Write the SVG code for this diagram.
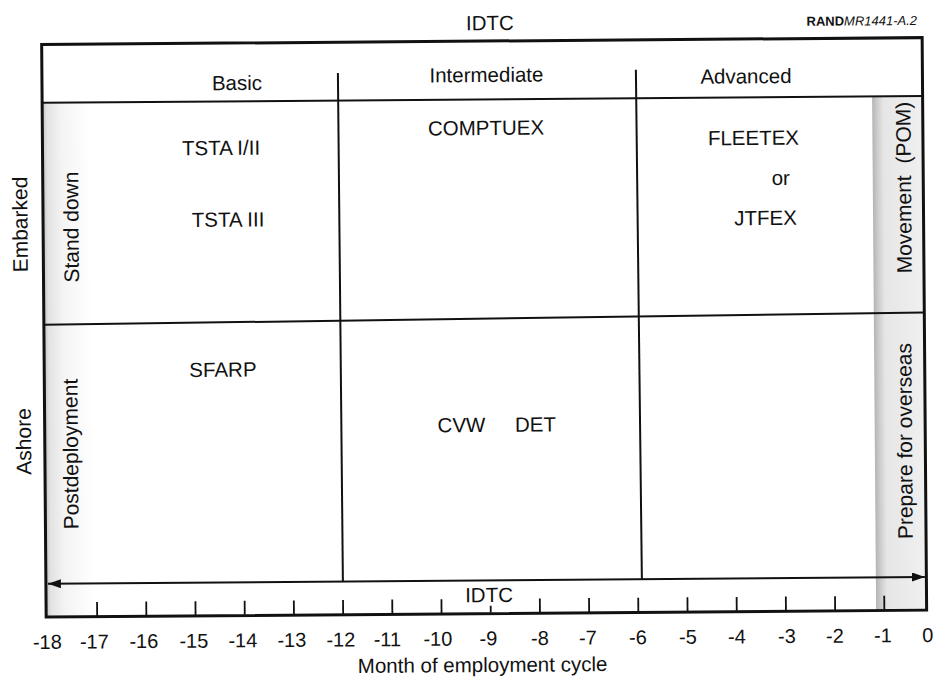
<svg xmlns="http://www.w3.org/2000/svg" width="938" height="679" viewBox="0 0 938 679">
<style>
text{font-family:"Liberation Sans",Arial,Helvetica,sans-serif;fill:#111;}
.lbl{font-size:20.5px;text-anchor:middle;}
.vl{font-size:21px;text-anchor:middle;}
.num{font-size:20px;text-anchor:middle;}
.frame{fill:none;stroke:#111;stroke-width:3;}
.ln{stroke:#111;stroke-width:2;fill:none;}
.tick{stroke:#111;stroke-width:1.8;}
.conn{stroke:#111;stroke-width:2;fill:none;}
</style>
<defs>
<linearGradient id="gl" x1="0" x2="1" y1="0" y2="0">
<stop offset="0" stop-color="#c2c2c2"/>
<stop offset="0.1" stop-color="#e2e2e2"/>
<stop offset="0.4" stop-color="#f4f4f4"/>
<stop offset="1" stop-color="#ffffff"/>
</linearGradient>
<linearGradient id="gr" x1="0" x2="1" y1="0" y2="0">
<stop offset="0" stop-color="#b4b4b4"/>
<stop offset="0.1" stop-color="#cdcdcd"/>
<stop offset="0.22" stop-color="#e6e6e6"/>
<stop offset="1" stop-color="#f0f0f0"/>
</linearGradient>
<marker id="ah" markerUnits="userSpaceOnUse" markerWidth="13" markerHeight="9" refX="13" refY="4.5" orient="auto-start-reverse">
<path d="M0,0 L13,4.5 L0,9 z" fill="#111"/>
</marker>
</defs>
<rect width="938" height="679" fill="#fff"/>
<g transform="rotate(-0.45 469 340)">
<g id="shading">
<rect x="44" y="100" width="48" height="514" fill="url(#gl)"/>
<rect x="874" y="100" width="50.5" height="514" fill="url(#gr)"/>
</g>
<g id="frame">
<rect class="frame" x="44" y="41.2" width="880.5" height="572.5"/>
<line class="ln" x1="44" y1="99.5" x2="924.5" y2="99.5"/>
<line class="ln" x1="44" y1="321.5" x2="924.5" y2="316"/>
<line class="ln" x1="340" y1="72" x2="341" y2="580.5"/>
<line class="ln" x1="638" y1="71" x2="640" y2="580.5"/>
</g>
<g id="titles">
<text class="lbl" x="492.4" y="30.2">IDTC</text>
<text x="919.5" y="28.5" style="font-size:13px;text-anchor:end"><tspan font-weight="bold">RAND</tspan><tspan font-style="italic">MR1441-A.2</tspan></text>
</g>
<g id="header">
<text class="lbl" x="239" y="88.2">Basic</text>
<text class="lbl" x="488.5" y="82.1">Intermediate</text>
<text class="lbl" x="748" y="85.5">Advanced</text>
</g>
<g id="row-labels">
<text class="vl" transform="translate(28.4,221) rotate(-90)">Embarked</text>
<text class="vl" transform="translate(30.2,438) rotate(-90)">Ashore</text>
</g>
<g id="stand-down">
<text class="vl" transform="translate(79.4,224) rotate(-90)">Stand down</text>
</g>
<g id="postdeployment">
<text class="vl" transform="translate(77.1,451) rotate(-90)">Postdeployment</text>
</g>
<g id="basic-embarked">
<text class="lbl" x="222.5" y="153">TSTA I/II</text>
<text class="lbl" x="229" y="224.8">TSTA III</text>
</g>
<g id="intermediate-embarked">
<text class="lbl" x="487.6" y="135.1">COMPTUEX</text>
</g>
<g id="advanced-embarked">
<text class="lbl" x="755" y="147.2">FLEETEX</text>
<text class="lbl" x="782" y="187.5">or</text>
<text class="lbl" x="766.5" y="227.3">JTFEX</text>
</g>
<g id="basic-ashore">
<text class="lbl" x="222.7" y="374.8">SFARP</text>
</g>
<g id="intermediate-ashore">
<text class="lbl" y="432"><tspan x="460.8">CVW</tspan><tspan x="534.8">DET</tspan></text>
</g>
<g id="movement">
<text class="vl" transform="translate(912.2,191) rotate(-90)" word-spacing="6">Movement (POM)</text>
</g>
<g id="prepare">
<text class="vl" transform="translate(911.2,444.5) rotate(-90)">Prepare for overseas</text>
</g>
<g id="connectors">
<line class="conn" x1="46" y1="580.5" x2="923" y2="580.5" marker-start="url(#ah)" marker-end="url(#ah)"/>
</g>
<g id="idtc-bottom">
<text class="lbl" x="487" y="602.2">IDTC</text>
</g>
<g id="axis">
<g class="tick">
<line x1="95" y1="599" x2="95" y2="613"/>
<line x1="144.2" y1="599" x2="144.2" y2="613"/>
<line x1="193.4" y1="599" x2="193.4" y2="613"/>
<line x1="242.6" y1="599" x2="242.6" y2="613"/>
<line x1="291.8" y1="599" x2="291.8" y2="613"/>
<line x1="341" y1="599" x2="341" y2="613"/>
<line x1="390.2" y1="599" x2="390.2" y2="613"/>
<line x1="439.4" y1="599" x2="439.4" y2="613"/>
<line x1="488.6" y1="606" x2="488.6" y2="613"/>
<line x1="537.8" y1="599" x2="537.8" y2="613"/>
<line x1="587" y1="599" x2="587" y2="613"/>
<line x1="636.2" y1="599" x2="636.2" y2="613"/>
<line x1="685.4" y1="599" x2="685.4" y2="613"/>
<line x1="734.6" y1="599" x2="734.6" y2="613"/>
<line x1="783.8" y1="599" x2="783.8" y2="613"/>
<line x1="833" y1="599" x2="833" y2="613"/>
<line x1="882.2" y1="599" x2="882.2" y2="613"/>
</g>
<text class="num" x="45" y="645.5">-18</text>
<text class="num" x="92" y="645.5">-17</text>
<text class="num" x="141.5" y="645.5">-16</text>
<text class="num" x="191.5" y="645.5">-15</text>
<text class="num" x="240.5" y="645.5">-14</text>
<text class="num" x="289.5" y="645.5">-13</text>
<text class="num" x="338.5" y="645.5">-12</text>
<text class="num" x="385" y="645.5">-11</text>
<text class="num" x="435.5" y="645.5">-10</text>
<text class="num" x="486" y="645.5">-9</text>
<text class="num" x="537.5" y="645.5">-8</text>
<text class="num" x="585.5" y="645.5">-7</text>
<text class="num" x="635.5" y="645.5">-6</text>
<text class="num" x="685.5" y="645.5">-5</text>
<text class="num" x="734.5" y="645.5">-4</text>
<text class="num" x="784.5" y="645.5">-3</text>
<text class="num" x="832.5" y="645.5">-2</text>
<text class="num" x="880.5" y="645.5">-1</text>
<text class="num" x="925.5" y="645.5">0</text>
<text class="lbl" x="480" y="672.1">Month of employment cycle</text>
</g>
</g>
</svg>
